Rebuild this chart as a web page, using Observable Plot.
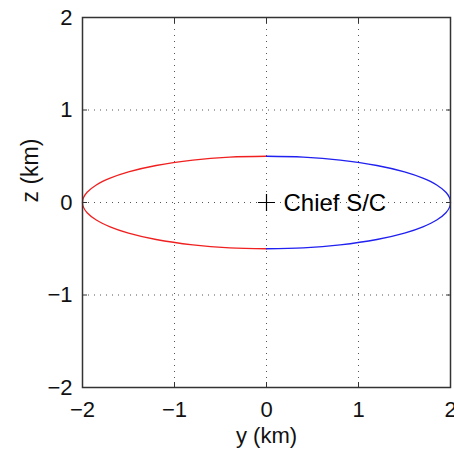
<!DOCTYPE html>
<html><head><meta charset="utf-8">
<script src="https://cdn.jsdelivr.net/npm/d3@7"></script>
<script src="https://cdn.jsdelivr.net/npm/@observablehq/plot@0.6"></script>
<style>
body{margin:0;background:#fff;}
#c{position:absolute;left:0;top:0;}
</style></head><body><div id="c"></div>
<script>
const xTicks = [-2, -1, 0, 1, 2];
const yTicks = [-2, -1, 0, 1, 2];
// Red (left) half of the relative orbit
const redY = [0,-0.4,-0.8,-1.2,-1.5,-1.7,-1.85,-1.95,-1.99,-2,-1.99,-1.95,-1.85,-1.7,-1.5,-1.2,-0.8,-0.4,0];
const redZ = [0.5,0.49,0.458,0.4,0.331,0.263,0.19,0.111,0.05,0,-0.05,-0.111,-0.19,-0.263,-0.331,-0.4,-0.458,-0.49,-0.5];
// Blue (right) half
const blueY = [0,0.4,0.8,1.2,1.5,1.7,1.85,1.95,1.99,2,1.99,1.95,1.85,1.7,1.5,1.2,0.8,0.4,0];
const blueZ = [0.5,0.49,0.458,0.4,0.331,0.263,0.19,0.111,0.05,0,-0.05,-0.111,-0.19,-0.263,-0.331,-0.4,-0.458,-0.49,-0.5];
const chief = [{y: 0, z: 0, label: "Chief S/C"}];

const red = redY.map((v, i) => ({y: v, z: redZ[i]}));
const blue = blueY.map((v, i) => ({y: v, z: blueZ[i]}));

const plusSymbol = {draw(ctx, size) { const r = Math.sqrt(size) * 0.8; ctx.moveTo(-r, 0); ctx.lineTo(r, 0); ctx.moveTo(0, -r); ctx.lineTo(0, r); }};
const fmt = d => d < 0 ? "\u2212" + Math.abs(d) : String(d);

const font = "'Liberation Sans', Arial, Helvetica, sans-serif";
const chart = Plot.plot({
  width: 454, height: 454,
  marginLeft: 82, marginRight: 4, marginTop: 17, marginBottom: 67,
  style: {fontFamily: font, fontSize: "22px", background: "#fff", color: "#222", overflow: "visible"},
  x: {domain: [-2, 2], ticks: xTicks, label: null},
  y: {domain: [-2, 2], ticks: yTicks, label: null},
  marks: [
    Plot.gridX(xTicks.slice(1, -1), {stroke: "#555", strokeOpacity: 1, strokeDasharray: "1,5", strokeWidth: 1}),
    Plot.gridY(yTicks.slice(1, -1), {stroke: "#555", strokeOpacity: 1, strokeDasharray: "1,5", strokeWidth: 1}),
    Plot.line(red, {x: "y", y: "z", stroke: "#f02020", strokeWidth: 1.3, curve: "catmull-rom"}),
    Plot.line(blue, {x: "y", y: "z", stroke: "#2020f0", strokeWidth: 1.3, curve: "catmull-rom"}),
    Plot.dot(chief, {x: "y", y: "z", symbol: plusSymbol, r: 6, stroke: "#000", strokeWidth: 1.2, fill: "none"}),
    Plot.text(chief, {x: "y", y: "z", text: "label", textAnchor: "start", dx: 17, dy: 1, fontSize: 24, fill: "#000"}),
    Plot.frame({stroke: "#333", strokeWidth: 1.5}),
    Plot.axisX(xTicks, {tickSize: -5, tickPadding: 19, fontSize: 22, stroke: "#333", fill: "#111", tickFormat: fmt, label: null}),
    Plot.axisX(xTicks, {anchor: "top", tickSize: -5, tickFormat: () => "", stroke: "#333", label: null}),
    Plot.axisY(yTicks, {tickSize: -5, tickPadding: 15, fontSize: 22, stroke: "#333", fill: "#111", tickFormat: fmt, label: null}),
    Plot.axisY(yTicks, {anchor: "right", tickSize: -5, tickFormat: () => "", stroke: "#333", label: null}),
    Plot.text(["y (km)"], {frameAnchor: "bottom", dy: 55, fontSize: 22, fill: "#111"}),
    Plot.text(["z (km)"], {frameAnchor: "left", dx: -52, rotate: -90, fontSize: 23, fill: "#111"})
  ]
});
document.getElementById("c").appendChild(chart);
</script></body></html>
